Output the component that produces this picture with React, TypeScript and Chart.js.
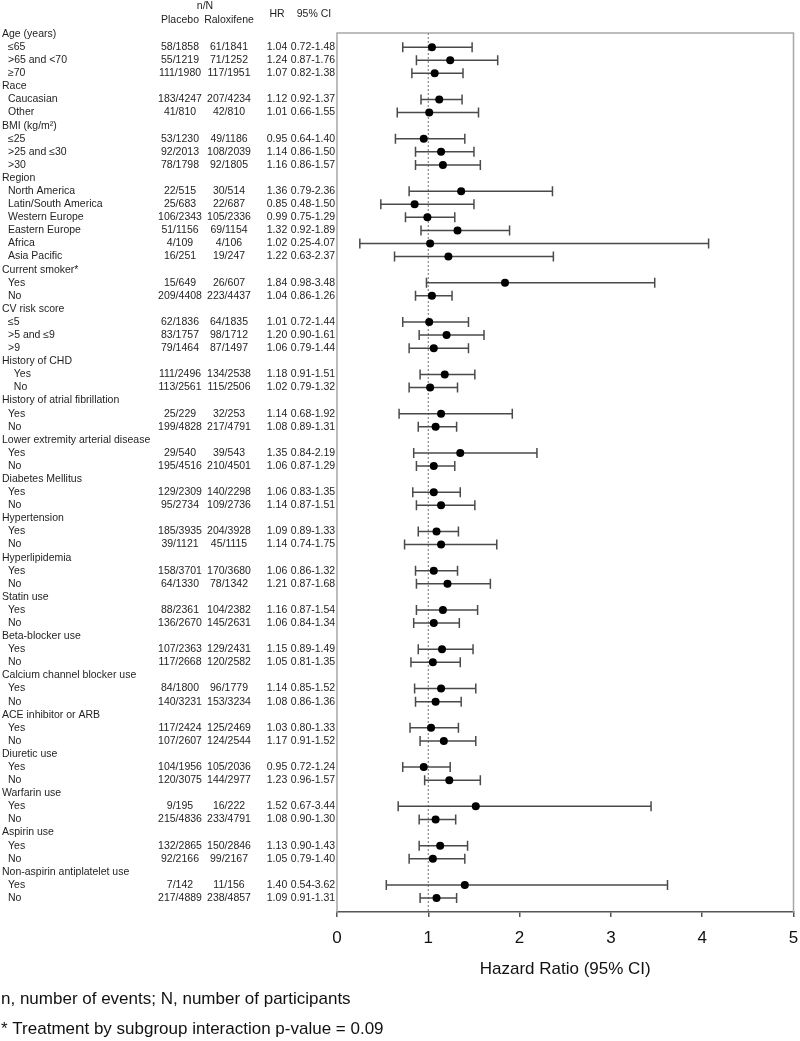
import React, { useEffect, useRef } from 'react';
import { Chart, registerables } from 'chart.js';

Chart.register(...registerables);

// ---------- data ----------
const rowLabels: string[] = [
  'Age (years)', '≤65', '>65 and <70', '≥70',
  'Race', 'Caucasian', 'Other',
  'BMI (kg/m²)', '≤25', '>25 and ≤30', '>30',
  'Region', 'North America', 'Latin/South America', 'Western Europe', 'Eastern Europe', 'Africa', 'Asia Pacific',
  'Current smoker*', 'Yes', 'No',
  'CV risk score', '≤5', '>5 and ≤9', '>9',
  'History of CHD', '  Yes', '  No',
  'History of atrial fibrillation', 'Yes', 'No',
  'Lower extremity arterial disease', 'Yes', 'No',
  'Diabetes Mellitus', 'Yes', 'No',
  'Hypertension', 'Yes', 'No',
  'Hyperlipidemia', 'Yes', 'No',
  'Statin use', 'Yes', 'No',
  'Beta-blocker use', 'Yes', 'No',
  'Calcium channel blocker use', 'Yes', 'No',
  'ACE inhibitor or ARB', 'Yes', 'No',
  'Diuretic use', 'Yes', 'No',
  'Warfarin use', 'Yes', 'No',
  'Aspirin use', 'Yes', 'No',
  'Non-aspirin antiplatelet use', 'Yes', 'No',
];

const placeboNN: string[] = [
  '', '58/1858', '55/1219', '111/1980',
  '', '183/4247', '41/810',
  '', '53/1230', '92/2013', '78/1798',
  '', '22/515', '25/683', '106/2343', '51/1156', '4/109', '16/251',
  '', '15/649', '209/4408',
  '', '62/1836', '83/1757', '79/1464',
  '', '111/2496', '113/2561',
  '', '25/229', '199/4828',
  '', '29/540', '195/4516',
  '', '129/2309', '95/2734',
  '', '185/3935', '39/1121',
  '', '158/3701', '64/1330',
  '', '88/2361', '136/2670',
  '', '107/2363', '117/2668',
  '', '84/1800', '140/3231',
  '', '117/2424', '107/2607',
  '', '104/1956', '120/3075',
  '', '9/195', '215/4836',
  '', '132/2865', '92/2166',
  '', '7/142', '217/4889',
];

const raloxifeneNN: string[] = [
  '', '61/1841', '71/1252', '117/1951',
  '', '207/4234', '42/810',
  '', '49/1186', '108/2039', '92/1805',
  '', '30/514', '22/687', '105/2336', '69/1154', '4/106', '19/247',
  '', '26/607', '223/4437',
  '', '64/1835', '98/1712', '87/1497',
  '', '134/2538', '115/2506',
  '', '32/253', '217/4791',
  '', '39/543', '210/4501',
  '', '140/2298', '109/2736',
  '', '204/3928', '45/1115',
  '', '170/3680', '78/1342',
  '', '104/2382', '145/2631',
  '', '129/2431', '120/2582',
  '', '96/1779', '153/3234',
  '', '125/2469', '124/2544',
  '', '105/2036', '144/2977',
  '', '16/222', '233/4791',
  '', '150/2846', '99/2167',
  '', '11/156', '238/4857',
];

const hazardRatio: (number | null)[] = [
  null, 1.04, 1.24, 1.07,
  null, 1.12, 1.01,
  null, 0.95, 1.14, 1.16,
  null, 1.36, 0.85, 0.99, 1.32, 1.02, 1.22,
  null, 1.84, 1.04,
  null, 1.01, 1.20, 1.06,
  null, 1.18, 1.02,
  null, 1.14, 1.08,
  null, 1.35, 1.06,
  null, 1.06, 1.14,
  null, 1.09, 1.14,
  null, 1.06, 1.21,
  null, 1.16, 1.06,
  null, 1.15, 1.05,
  null, 1.14, 1.08,
  null, 1.03, 1.17,
  null, 0.95, 1.23,
  null, 1.52, 1.08,
  null, 1.13, 1.05,
  null, 1.40, 1.09,
];

const ciLower: (number | null)[] = [
  null, 0.72, 0.87, 0.82,
  null, 0.92, 0.66,
  null, 0.64, 0.86, 0.86,
  null, 0.79, 0.48, 0.75, 0.92, 0.25, 0.63,
  null, 0.98, 0.86,
  null, 0.72, 0.90, 0.79,
  null, 0.91, 0.79,
  null, 0.68, 0.89,
  null, 0.84, 0.87,
  null, 0.83, 0.87,
  null, 0.89, 0.74,
  null, 0.86, 0.87,
  null, 0.87, 0.84,
  null, 0.89, 0.81,
  null, 0.85, 0.86,
  null, 0.80, 0.91,
  null, 0.72, 0.96,
  null, 0.67, 0.90,
  null, 0.90, 0.79,
  null, 0.54, 0.91,
];

const ciUpper: (number | null)[] = [
  null, 1.48, 1.76, 1.38,
  null, 1.37, 1.55,
  null, 1.40, 1.50, 1.57,
  null, 2.36, 1.50, 1.29, 1.89, 4.07, 2.37,
  null, 3.48, 1.26,
  null, 1.44, 1.61, 1.44,
  null, 1.51, 1.32,
  null, 1.92, 1.31,
  null, 2.19, 1.29,
  null, 1.35, 1.51,
  null, 1.33, 1.75,
  null, 1.32, 1.68,
  null, 1.54, 1.34,
  null, 1.49, 1.35,
  null, 1.52, 1.36,
  null, 1.33, 1.52,
  null, 1.24, 1.57,
  null, 3.44, 1.30,
  null, 1.43, 1.40,
  null, 3.62, 1.31,
];

const xTicks: number[] = [0, 1, 2, 3, 4, 5];
const referenceHR = 1;
const xAxisTitle = 'Hazard Ratio (95% CI)';
const columnHeaders = { group: 'n/N', placebo: 'Placebo', raloxifene: 'Raloxifene', hr: 'HR', ci: '95% CI' };
const footnotes: string[] = [
  'n, number of events; N, number of participants',
  '* Treatment by subgroup interaction p-value = 0.09',
];

// ---------- layout / style ----------
const W = 800;
const H = 1041;
const FONT = '"Liberation Sans", Arial, Helvetica, sans-serif';
const Y_MIN = -0.08;
const Y_MAX = 67.07;

export default function App() {
  const canvasRef = useRef<HTMLCanvasElement | null>(null);

  useEffect(() => {
    const canvas = canvasRef.current;
    if (!canvas) return;

    const pointData: { x: number; y: number }[] = [];
    const barDatasets: any[] = [];
    hazardRatio.forEach((hr, i) => {
      if (hr === null) return;
      pointData.push({ x: hr, y: i });
      barDatasets.push({
        type: 'scatter',
        data: [
          { x: ciLower[i] as number, y: i },
          { x: ciUpper[i] as number, y: i },
        ],
        showLine: true,
        borderColor: '#4a4a4a',
        borderWidth: 1.5,
        pointStyle: 'line',
        pointRadius: 5,
        pointRotation: 90,
        pointBorderColor: '#4a4a4a',
        pointBorderWidth: 1.5,
        pointBackgroundColor: '#4a4a4a',
        order: 2,
      });
    });

    const tablePlugin = {
      id: 'forestTable',
      beforeDatasetsDraw(chart: any) {
        const { ctx, chartArea } = chart;
        ctx.save();
        ctx.strokeStyle = '#a8a8a8';
        ctx.lineWidth = 1.5;
        ctx.beginPath();
        ctx.moveTo(chartArea.left, chartArea.bottom);
        ctx.lineTo(chartArea.left, chartArea.top);
        ctx.lineTo(chartArea.right, chartArea.top);
        ctx.lineTo(chartArea.right, chartArea.bottom);
        ctx.stroke();
        ctx.restore();
      },
      afterDraw(chart: any) {
        const { ctx } = chart;
        const yScale = chart.scales.y;
        ctx.save();
        ctx.fillStyle = '#1e1e1e';
        ctx.textBaseline = 'middle';
        ctx.font = `10.5px ${FONT}`;

        // column headers
        ctx.textAlign = 'center';
        ctx.fillText(columnHeaders.group, 205, 6);
        ctx.fillText(columnHeaders.placebo, 180, 20);
        ctx.fillText(columnHeaders.raloxifene, 229, 20);
        ctx.fillText(columnHeaders.hr, 277, 14);
        ctx.fillText(columnHeaders.ci, 314, 14);

        rowLabels.forEach((label, i) => {
          const py = yScale.getPixelForValue(i);
          const isHeader = hazardRatio[i] === null;
          ctx.textAlign = 'left';
          ctx.fillText(label, isHeader ? 2 : 8, py);
          if (!isHeader) {
            ctx.textAlign = 'center';
            ctx.fillText(placeboNN[i], 180, py);
            ctx.fillText(raloxifeneNN[i], 229, py);
            ctx.fillText((hazardRatio[i] as number).toFixed(2), 277, py);
            ctx.fillText(
              `${(ciLower[i] as number).toFixed(2)}-${(ciUpper[i] as number).toFixed(2)}`,
              313,
              py,
            );
          }
        });

        // footnotes
        ctx.textAlign = 'left';
        ctx.fillStyle = '#111';
        ctx.font = `17px ${FONT}`;
        ctx.fillText(footnotes[0], 1, 999);
        ctx.fillText(footnotes[1], 1, 1029);
        ctx.restore();
      },
    };

    const chart = new Chart(canvas, {
      type: 'scatter',
      data: {
        datasets: [
          {
            type: 'scatter',
            data: pointData,
            pointRadius: 4,
            pointBackgroundColor: '#000',
            pointBorderColor: '#000',
            pointBorderWidth: 0,
            order: 0,
          },
          ...barDatasets,
          {
            type: 'scatter',
            data: [
              { x: referenceHR, y: Y_MIN },
              { x: referenceHR, y: Y_MAX },
            ],
            showLine: true,
            borderColor: '#8a8a8a',
            borderWidth: 1.2,
            borderDash: [2, 2],
            pointRadius: 0,
            order: 5,
          },
        ],
      },
      options: {
        responsive: false,
        animation: false,
        layout: { padding: { left: 337, right: 5, top: 33, bottom: 0 } },
        plugins: { legend: { display: false }, tooltip: { enabled: false } },
        scales: {
          x: {
            type: 'linear',
            position: 'bottom',
            min: xTicks[0],
            max: xTicks[xTicks.length - 1],
            afterBuildTicks: (s: any) => {
              s.ticks = xTicks.map((v) => ({ value: v }));
            },
            afterFit: (s: any) => {
              s.height = H - 912;
              s.paddingLeft = 0;
              s.paddingRight = 0;
            },
            ticks: {
              font: { family: FONT, size: 17 },
              color: '#111',
              padding: 11,
              maxRotation: 0,
              callback: (v: any) => String(v),
            },
            grid: {
              drawOnChartArea: false,
              drawTicks: true,
              tickLength: 5,
              color: '#555',
              lineWidth: 1.5,
            },
            border: { display: true, color: '#555', width: 1.5 },
            title: {
              display: true,
              text: xAxisTitle,
              font: { family: FONT, size: 17 },
              color: '#111',
              padding: { top: 0, bottom: 61 },
            },
          },
          y: {
            type: 'linear',
            display: false,
            reverse: true,
            min: Y_MIN,
            max: Y_MAX,
          },
        },
      },
      plugins: [tablePlugin],
    } as any);

    return () => chart.destroy();
  }, []);

  return (
    <div style={{ position: 'absolute', left: 0, top: 0, width: W, height: H, background: '#fff' }}>
      <canvas ref={canvasRef} width={W} height={H} style={{ display: 'block' }} />
    </div>
  );
}
